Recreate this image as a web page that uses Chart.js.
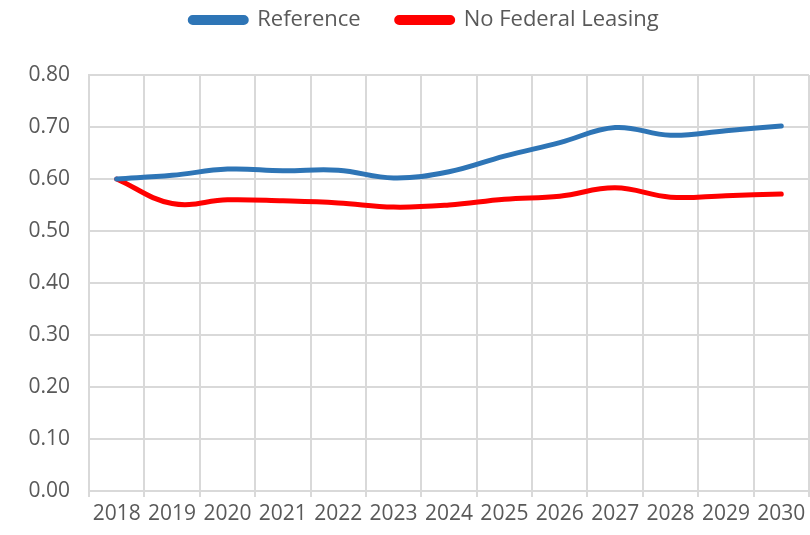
<!DOCTYPE html>
<html>
<head>
<meta charset="utf-8">
<script src="https://cdn.jsdelivr.net/npm/chart.js@4/dist/chart.umd.min.js"></script>
<style>
  html, body { margin: 0; padding: 0; background: #fff; }
  #wrap { width: 810px; height: 535px; position: relative; }
</style>
</head>
<body>
<div id="wrap"><canvas id="chart"></canvas></div>
<script>
  // ── Data ──────────────────────────────────────────────
  const years = ['2018', '2019', '2020', '2021', '2022', '2023', '2024',
                 '2025', '2026', '2027', '2028', '2029', '2030'];
  const reference = [0.600, 0.607, 0.619, 0.616, 0.617, 0.602, 0.614,
                     0.644, 0.670, 0.699, 0.684, 0.693, 0.702];
  const noFederalLeasing = [0.600, 0.553, 0.560, 0.558, 0.554, 0.546, 0.550,
                            0.561, 0.567, 0.583, 0.565, 0.568, 0.571];
  const yTicks = [0, 0.1, 0.2, 0.3, 0.4, 0.5, 0.6, 0.7, 0.8];

  // ── Theme ─────────────────────────────────────────────
  const GRID = '#D9D9D9';
  const TEXT = '#595959';
  const FONT = "'Open Sans', sans-serif";

  Chart.defaults.font.family = FONT;
  Chart.defaults.color = TEXT;

  // empty box between legend and plot area, to push the plot down;
  // also nudges the legend a bit right of the canvas centre
  const legendGap = {
    id: 'legendGap',
    beforeInit(chart) {
      Chart.layouts.addBox(chart, {
        position: 'top',
        weight: 500,
        fullSize: true,
        options: {},
        width: 0, height: 0, left: 0, top: 0, right: 0, bottom: 0,
        update(maxWidth) { this.width = maxWidth; this.height = 34; },
        isHorizontal() { return true; },
        draw() {}
      });
    },
    afterLayout(chart) {
      if (chart.legend) {
        chart.legend.left += 20;
        chart.legend.right += 20;
      }
    }
  };

  new Chart(document.getElementById('chart'), {
    type: 'line',
    data: {
      labels: years,
      datasets: [
        {
          label: 'Reference',
          data: reference,
          borderColor: '#2E75B6',
          backgroundColor: '#2E75B6',
          borderWidth: 5,
          borderCapStyle: 'round',
          tension: 0.4,
          pointRadius: 0
        },
        {
          label: 'No Federal Leasing',
          data: noFederalLeasing,
          borderColor: '#FF0000',
          backgroundColor: '#FF0000',
          borderWidth: 5,
          borderCapStyle: 'round',
          tension: 0.4,
          pointRadius: 0
        }
      ]
    },
    options: {
      responsive: true,
      maintainAspectRatio: false,
      animation: false,
      layout: { padding: { top: -27, right: 1, bottom: 0, left: 0 } },
      scales: {
        x: {
          offset: true,
          grid: { offset: true, color: GRID, lineWidth: 2, tickLength: 6 },
          border: { color: GRID, width: 2 },
          ticks: { color: TEXT, font: { size: 21 }, maxRotation: 0, autoSkip: false, padding: 4 },
          afterFit(scale) { scale.height = 44; }
        },
        y: {
          min: 0,
          max: 0.8,
          afterBuildTicks(scale) { scale.ticks = yTicks.map(v => ({ value: v })); },
          grid: { color: GRID, lineWidth: 2, drawTicks: false },
          border: { color: GRID, width: 2 },
          ticks: {
            color: TEXT,
            font: { size: 21 },
            padding: 19,
            callback: v => v.toFixed(2)
          },
          afterFit(scale) { scale.width = 89; }
        }
      },
      plugins: {
        legend: {
          position: 'top',
          labels: {
            color: TEXT,
            font: { size: 22 },
            boxWidth: 56,
            boxHeight: 5,
            useBorderRadius: true,
            borderRadius: 2.5,
            padding: 36
          }
        },
        tooltip: { enabled: false }
      }
    },
    plugins: [legendGap]
  });
</script>
</body>
</html>
